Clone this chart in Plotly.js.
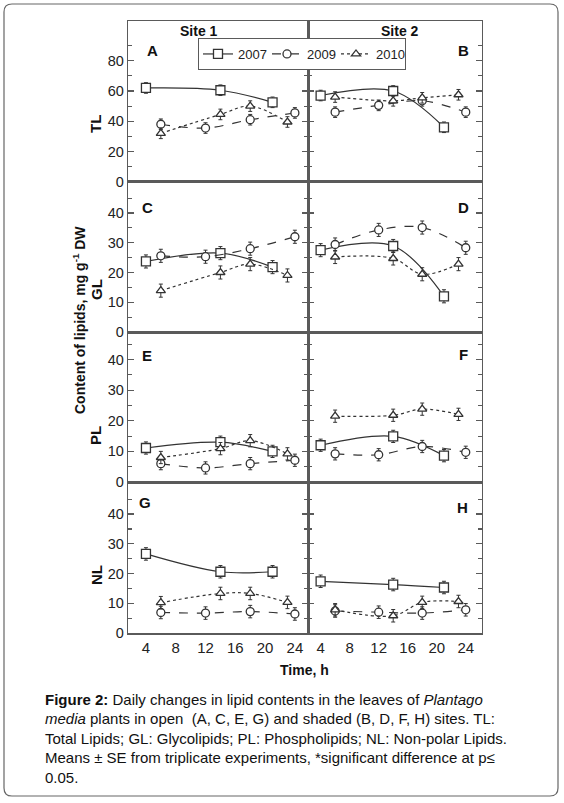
<!DOCTYPE html>
<html>
<head>
<meta charset="utf-8">
<script src="https://cdn.plot.ly/plotly-3.0.1.min.js"></script>
<style>
  body { margin: 0; background: #fff; }
  #chart { width: 564px; height: 803px; }
</style>
</head>
<body>
<div id="chart"></div>
<script>
'use strict';

// sampling hours per year
const T2007 = [4, 14, 21];
const T2009 = [6, 12, 18, 24];
const T2010 = [6, 14, 18, 23];

// TL, total lipids (mg/g DW)
const TL1_2007 = [62, 60.5, 52.5];
const TL1_2009 = [38, 35.5, 41, 45.5];
const TL1_2010 = [32, 44.5, 50, 39.5];
const TL2_2007 = [57, 60, 36];
const TL2_2009 = [46, 50.5, 53.5, 46];
const TL2_2010 = [56, 53.5, 55.5, 57.5];

// GL, glycolipids
const GL1_2007 = [23.7, 26.5, 21.8];
const GL1_2009 = [25.6, 25.3, 28, 32];
const GL1_2010 = [13.9, 20, 22.8, 19];
const GL2_2007 = [27.5, 28.9, 12];
const GL2_2009 = [29.4, 34.3, 35.1, 28.3];
const GL2_2010 = [25.2, 24.7, 19.4, 22.8];

// PL, phospholipids
const PL1_2007 = [11.1, 13, 10];
const PL1_2009 = [6, 4.6, 6, 7.1];
const PL1_2010 = [8, 10.9, 13.5, 9.2];
const PL2_2007 = [12, 14.9, 8.6];
const PL2_2009 = [9.2, 8.9, 11.6, 9.7];
const PL2_2010 = [21.5, 21.8, 23.8, 22.1];

// NL, non-polar lipids
const NL1_2007 = [26.6, 20.6, 20.6];
const NL1_2009 = [6.9, 6.7, 7.2, 6.4];
const NL1_2010 = [10.2, 13.3, 13.3, 10.3];
const NL2_2007 = [17.4, 16.3, 15.3];
const NL2_2009 = [7.4, 7.0, 6.7, 7.8];
const NL2_2010 = [7.8, 5.8, 10.3, 10.6];

// standard errors, one value per panel row
const SE_ROW = [3.5, 2.2, 2.0, 2.1];

// axis ticks
const TICKS_X = [4, 8, 12, 16, 20, 24];
const TICKS_TL = [0, 20, 40, 60, 80];
const TICKS_LIP = [0, 10, 20, 30, 40];

const years = ['2007', '2009', '2010'];
const times = [T2007, T2009, T2010];
const panels = [
  [TL1_2007, TL1_2009, TL1_2010], [TL2_2007, TL2_2009, TL2_2010],
  [GL1_2007, GL1_2009, GL1_2010], [GL2_2007, GL2_2009, GL2_2010],
  [PL1_2007, PL1_2009, PL1_2010], [PL2_2007, PL2_2009, PL2_2010],
  [NL1_2007, NL1_2009, NL1_2010], [NL2_2007, NL2_2009, NL2_2010]
];
const rowLabels = ['TL', 'GL', 'PL', 'NL'];
const letters = ['A', 'B', 'C', 'D', 'E', 'F', 'G', 'H'];

const W = 564, H = 803;
const px = x => x / W;
const py = y => 1 - y / H;

const INK = '#333';
const AXIS = '#5a5a5a';
const NARROW = '"Liberation Sans Narrow", "Arial Narrow", "Liberation Sans", Arial, sans-serif';
const SANS = '"Liberation Sans", Arial, sans-serif';

const dashes = ['solid', 'dash', 'dot'];
const symbols = ['square', 'circle', 'triangle-up'];
const sizes = [9, 8, 8];

const colX = [[128.3, 308.3], [308.3, 481.7]];
const xRanges = [[1.63, 25.8], [2.3, 26.2]];
const rowY = [[21, 181.7], [181.7, 332], [332, 482], [482, 633]];
const yRanges = [[0, 106.3], [0, 50.5], [0, 49], [0, 50.8]];
const yTicks = [TICKS_TL, TICKS_LIP, TICKS_LIP, TICKS_LIP];
const yMinor = [10, 5, 5, 5];

const traces = [];
const layout = {
  width: W, height: H,
  margin: { l: 0, r: 0, t: 0, b: 0 },
  paper_bgcolor: '#fff', plot_bgcolor: '#fff',
  showlegend: true,
  legend: {
    orientation: 'h', x: px(198), y: py(38), xanchor: 'left', yanchor: 'top',
    bgcolor: '#fff', bordercolor: AXIS, borderwidth: 1,
    font: { family: NARROW, size: 13, color: '#222' },
    itemwidth: 30, entrywidth: 24, entrywidthmode: 'pixels', tracegroupgap: 0
  },
  annotations: [],
  shapes: []
};

for (let p = 0; p < 8; p++) {
  const row = Math.floor(p / 2), col = p % 2;
  const id = p + 1;
  const xa = 'x' + (id === 1 ? '' : id), ya = 'y' + (id === 1 ? '' : id);
  for (let s = 0; s < 3; s++) {
    traces.push({
      type: 'scatter', mode: 'lines+markers',
      x: times[s], y: panels[p][s],
      xaxis: xa, yaxis: ya,
      name: years[s], legendgroup: years[s], showlegend: p === 0,
      line: { color: INK, width: 1.2, dash: dashes[s], shape: 'spline', smoothing: 1 },
      marker: { symbol: symbols[s], size: sizes[s], color: '#fff', line: { color: INK, width: 1.3 } },
      error_y: { type: 'constant', value: SE_ROW[row], color: INK, thickness: 1, width: 2 }
    });
  }
  const bottom = row === 3;
  layout['xaxis' + (id === 1 ? '' : id)] = {
    domain: [px(colX[col][0]), px(colX[col][1])],
    anchor: ya, range: xRanges[col],
    showline: true, mirror: true, linecolor: AXIS, linewidth: 1.5,
    showgrid: false, zeroline: false,
    tickmode: 'array', tickvals: TICKS_X, ticks: '',
    showticklabels: bottom,
    tickfont: { family: NARROW, size: 15, color: '#222' }
  };
  layout['yaxis' + (id === 1 ? '' : id)] = {
    domain: [py(rowY[row][1]), py(rowY[row][0])],
    anchor: xa, range: yRanges[row],
    showline: true, mirror: 'ticks', linecolor: AXIS, linewidth: 1.5,
    showgrid: false, zeroline: false,
    tickmode: 'array', tickvals: yTicks[row],
    ticks: 'inside', ticklen: 6, tickwidth: 1.3, tickcolor: AXIS,
    minor: { tick0: yMinor[row], dtick: yMinor[row] * 2, ticks: 'inside', ticklen: 4, tickwidth: 1.1, tickcolor: AXIS, showgrid: false },
    showticklabels: col === 0,
    tickfont: { family: NARROW, size: 14.5, color: '#222' }
  };
}

function note(text, x, y, opts) {
  layout.annotations.push(Object.assign({
    text: text, x: px(x), y: py(y), xref: 'paper', yref: 'paper',
    showarrow: false, xanchor: 'center', yanchor: 'middle',
    font: { family: SANS, size: 14, color: '#111' }
  }, opts || {}));
}

// site headers and panel letters
note('<b>Site 1</b>', 199, 31);
note('<b>Site 2</b>', 400, 31);
const letterPos = [[152, 50], [463, 50], [147, 208], [463, 208], [147, 355], [463, 354], [145, 503], [462, 507]];
letterPos.forEach((q, i) => note('<b>' + letters[i] + '</b>', q[0], q[1], { font: { family: SANS, size: 15, color: '#111' } }));

// row labels and the shared y title
const rowLabelY = [124, 290, 436, 575];
rowLabels.forEach((t, i) => note('<b>' + t + '</b>', 96, rowLabelY[i], { textangle: -90, font: { family: SANS, size: 15, color: '#111' } }));
note('<b>Content of lipids, mg g<sup>-1</sup> DW</b>', 79, 320, { textangle: -90 });
note('<b>Time, h</b>', 304, 670);

// caption
const caption = [
  '<b>Figure 2:</b> Daily changes in lipid contents in the leaves of <i>Plantago</i>',
  '<i>media</i> plants in open  (A, C, E, G) and shaded (B, D, F, H) sites. TL:',
  'Total Lipids; GL: Glycolipids; PL: Phospholipids; NL: Non-polar Lipids.',
  'Means ± SE from triplicate experiments, *significant difference at p≤',
  '0.05.'
];
caption.forEach((t, i) => note(t, 43, 699 + i * 19.5, { xanchor: 'left', font: { family: SANS, size: 15, color: '#111' } }));

// rounded outer frame
const fx0 = 4, fx1 = 558, fy0 = 4, fy1 = 796, r = 8;
layout.shapes.push({
  type: 'path', xref: 'paper', yref: 'paper', layer: 'below',
  line: { color: '#666', width: 1.2 },
  path: 'M ' + px(fx0 + r) + ',' + py(fy0) +
    ' L ' + px(fx1 - r) + ',' + py(fy0) +
    ' Q ' + px(fx1) + ',' + py(fy0) + ' ' + px(fx1) + ',' + py(fy0 + r) +
    ' L ' + px(fx1) + ',' + py(fy1 - r) +
    ' Q ' + px(fx1) + ',' + py(fy1) + ' ' + px(fx1 - r) + ',' + py(fy1) +
    ' L ' + px(fx0 + r) + ',' + py(fy1) +
    ' Q ' + px(fx0) + ',' + py(fy1) + ' ' + px(fx0) + ',' + py(fy1 - r) +
    ' L ' + px(fx0) + ',' + py(fy0 + r) +
    ' Q ' + px(fx0) + ',' + py(fy0) + ' ' + px(fx0 + r) + ',' + py(fy0) + ' Z'
});

Plotly.newPlot('chart', traces, layout, { displayModeBar: false, staticPlot: true });
</script>
</body>
</html>
